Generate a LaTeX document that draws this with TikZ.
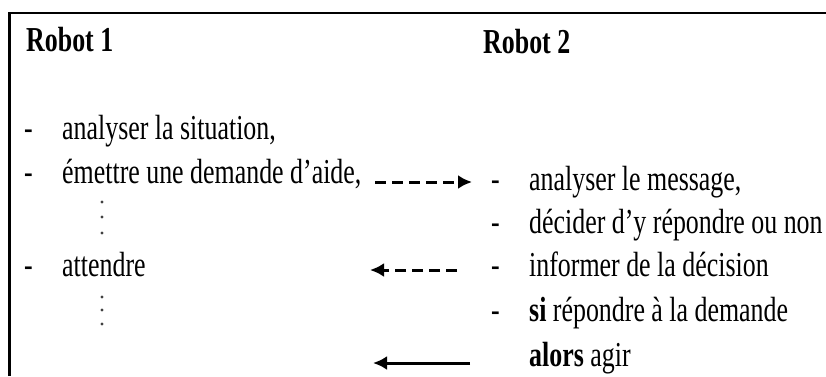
\documentclass[tikz,border=0pt]{standalone}
\usepackage{fontspec}
\setmainfont{Liberation Serif}[FakeStretch=0.74]
\usetikzlibrary{arrows.meta}
\begin{document}
\begin{tikzpicture}[x=1pt,y=1pt,
  txt/.style={anchor=base west, inner sep=0pt, font=\fontsize{35}{42}\selectfont},
  head/.style={txt, font=\fontsize{35}{42}\selectfont\bfseries},
  frame/.style={line width=2.8pt},
  msg/.style={line width=3pt, -{Latex[length=14pt,width=14pt]}},
  msgdash/.style={msg, dash pattern=on 11pt off 6pt},
  dot/.style={circle, fill=black!75, inner sep=0pt, minimum size=3.2pt}]
\useasboundingbox (0,-376) rectangle (826,0);

% frame: left and top edges
\draw[frame] (9.5,-376) -- (9.5,-13) -- (826,-13);

% headings
\node[head] (h1) at (26,-51) {Robot 1};
\node[head] (h2) at (483,-53) {Robot 2};

% Robot 1 steps
\node[txt] (b1) at (24,-139) {-};
\node[txt] (s1) at (62,-139) {analyser la situation,};
\node[txt] (b2) at (24,-183) {-};
\node[txt] (s2) at (62,-183) {émettre une demande d’aide,};
\node[dot] (p1) at (102,-202) {};
\node[dot] (p2) at (102,-217) {};
\node[dot] (p3) at (102,-233) {};
\node[txt] (b3) at (24,-276) {-};
\node[txt] (s3) at (62,-276) {attendre};
\node[dot] (p4) at (102,-297) {};
\node[dot] (p5) at (102,-310) {};
\node[dot] (p6) at (102,-324) {};

% Robot 2 steps
\node[txt] (c1) at (491,-190) {-};
\node[txt] (t1) at (529,-190) {analyser le message,};
\node[txt] (c2) at (491,-233) {-};
\node[txt] (t2) at (529,-233) {décider d’y répondre ou non};
\node[txt] (c3) at (491,-276) {-};
\node[txt] (t3) at (529,-276) {informer de la décision};
\node[txt] (c4) at (491,-321) {-};
\node[txt] (t4) at (529,-321) {\textbf{si} répondre à la demande};
\node[txt] (t5) at (529,-366) {\textbf{alors} agir};

% message ends
\coordinate (m1s) at (375,-182);
\coordinate (m1e) at (472,-182);
\coordinate (m2s) at (457,-270);
\coordinate (m2e) at (370,-270);
\coordinate (m3s) at (470,-363);
\coordinate (m3e) at (373,-363);

% exchanged messages
\draw[msgdash] (m1s) -- (m1e);
\draw[msgdash] (m2s) -- (m2e);
\draw[msg] (m3s) -- (m3e);
\end{tikzpicture}
\end{document}
